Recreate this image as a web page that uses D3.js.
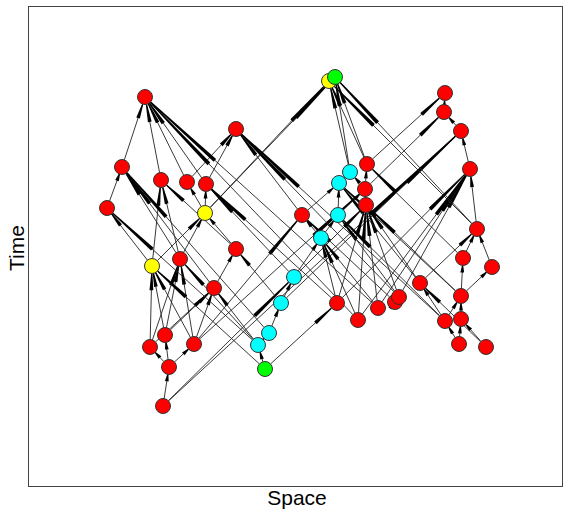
<!DOCTYPE html>
<html><head><meta charset="utf-8">
<script src="https://cdn.jsdelivr.net/npm/d3@7"></script>
<style>body{margin:0;background:#fff}svg{display:block}</style>
</head><body>
<svg id="chart" width="564" height="510"></svg>
<script>
// node positions (space, time) and colour class
const space = [1.17,2.08,0.94,1.33,1.59,1.78,0.79,1.77,1.24,1.52,2.08,1.86,1.37,1.22,1.66,1.41,1.35,3.01,3.07,2.74,3.22,3.11,3.39,3.37,3.10,3.38,2.93,2.66,2.53,2.41,2.30,2.37,3.09,3.30,3.50,3.67,3.71,4.17,4.16,4.33,4.42,4.49,4.35,4.64,3.92,4.33,4.33,4.17,4.31,4.58];
const time  = [3.89,3.57,3.19,3.06,3.04,3.02,2.78,2.73,2.20,2.27,2.37,1.98,1.51,1.39,1.42,1.19,0.80,4.05,4.09,2.71,3.14,3.03,3.22,2.97,2.71,2.81,2.48,2.09,1.83,1.53,1.41,1.17,1.83,1.66,1.78,1.84,1.89,3.93,3.74,3.55,3.17,2.57,2.28,2.19,2.03,1.90,1.67,1.65,1.42,1.39];
const kind  = ["r","r","r","r","r","r","r","y","y","r","r","r","r","r","r","r","r","y","g","r","c","c","r","r","c","r","c","c","c","c","c","g","r","r","r","r","r","r","r","r","r","r","r","r","r","r","r","r","r","r"];
// directed links (from earlier node to later node)
const edgeFrom = [2,3,4,4,5,5,6,7,7,7,7,8,8,8,9,9,9,10,10,11,11,12,12,12,13,13,13,14,14,14,14,14,15,15,15,16,16,16,19,19,20,20,21,22,22,22,23,23,23,24,24,25,26,26,27,27,27,28,28,28,29,29,30,30,30,30,31,31,31,32,32,32,32,33,33,33,33,34,34,34,34,35,35,36,36,36,36,38,39,40,41,41,41,42,42,43,44,44,44,45,45,45,45,46,47,47,47,47,48,48,49,49];
const edgeTo   = [0,0,0,1,0,1,2,4,5,17,18,3,6,7,2,3,7,3,7,2,10,8,9,11,8,9,11,8,9,11,19,23,12,13,14,15,27,39,1,21,17,18,20,17,18,37,20,22,38,21,23,23,19,24,5,25,26,10,27,39,2,28,6,9,11,29,8,30,32,5,25,26,40,0,25,26,40,0,25,26,40,19,36,1,24,25,40,37,38,39,17,18,40,22,41,41,21,25,41,21,25,42,43,45,1,24,44,45,46,47,44,46];
const palette = {r:"#FF0000", y:"#FFFF00", c:"#00FFFF", g:"#00FF00"};
const xTitle = "Space", yTitle = "Time";

const svg = d3.select("#chart");
const x = d3.scaleLinear().domain([0,5.34]).range([28,562]);
const y = d3.scaleLinear().domain([0,4.8]).range([486,6]);
const R = 7.5;
const n = space.length;

svg.append("rect").attr("x",28.5).attr("y",6.5).attr("width",534).attr("height",480)
  .attr("fill","none").attr("stroke","#444").attr("stroke-width",1);

const gE = svg.append("g");
edgeFrom.forEach((s,k)=>{
  const t = edgeTo[k];
  const x1=x(space[s]), y1=y(time[s]), x2=x(space[t]), y2=y(time[t]);
  const dx=x2-x1, dy=y2-y1, L=Math.hypot(dx,dy), ux=dx/L, uy=dy/L;
  const sx=x1+ux*R, sy=y1+uy*R, tx=x2-ux*R, ty=y2-uy*R;
  gE.append("line").attr("x1",sx).attr("y1",sy).attr("x2",tx).attr("y2",ty)
    .attr("stroke","#222").attr("stroke-width",0.9);
  const bl = Math.max(7, 0.3*L - R);
  const bx=tx-ux*bl, by=ty-uy*bl, px=-uy, py=ux, w0=1.9, w1=0.6;
  gE.append("path")
    .attr("d",`M${bx+px*w0},${by+py*w0}L${tx+px*w1},${ty+py*w1}L${tx-px*w1},${ty-py*w1}L${bx-px*w0},${by-py*w0}Z`)
    .attr("fill","#000");
});

svg.append("g").selectAll("circle").data(d3.range(n)).join("circle")
  .attr("cx",i=>x(space[i])).attr("cy",i=>y(time[i])).attr("r",R)
  .attr("fill",i=>palette[kind[i]]).attr("stroke","#333").attr("stroke-width",1);

svg.append("text").attr("x",297).attr("y",505).attr("text-anchor","middle")
  .attr("font-family","Liberation Sans, Arial, sans-serif").attr("font-size",21).text(xTitle);
svg.append("text").attr("transform","translate(24,248) rotate(-90)").attr("text-anchor","middle")
  .attr("font-family","Liberation Sans, Arial, sans-serif").attr("font-size",21).text(yTitle);
</script>
</body></html>
